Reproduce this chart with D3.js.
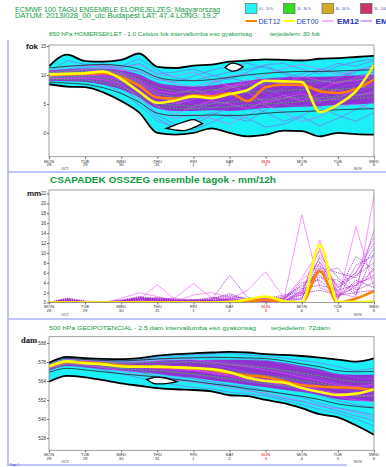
<!DOCTYPE html>
<html><head><meta charset="utf-8">
<script src="https://cdn.jsdelivr.net/npm/d3@7"></script>
<style>body{margin:0;background:#fff}svg{display:block}text{font-family:"Liberation Sans",Arial,sans-serif}</style>
</head><body><svg id="c" width="386" height="467"></svg>
<script>
// ---------- DATA ----------
const hours = [0,12,24,36,48,60,72,84,96,108,120,132,144,156,168,180,192,204,216];
const dayHours = [0,24,48,72,96,120,144,168,192,216];
const dayNames = ["MON","TUE","WED","THU","FRI","SAT","SUN","MON","TUE","WED"];
const dayNums = ["28","29","30","31","1","2","3","4","5","6"];
const tTicks = [0,5,10,15];
const pTicks = [0,2,4,6,8,10,12,14,16,18,20,22];
const zTicks = [528,540,552,564,576,588];

// Panel 1: 850 hPa temperature
const tEnvHi = [11.5,13.5,12.4,12.3,12.6,13.7,11.4,11.2,11.6,11.8,12.3,12.5,12.7,12.6,12.5,12.8,12.9,13.1,13.3];
const tEnvLo = [8.4,8.0,7.9,7.0,5.5,3.5,0.0,-0.3,0.0,0.8,0.0,-0.6,-0.3,0.4,0.3,-0.6,0.0,-0.2,-0.3];
const tInHi = [11.2,11.5,11.7,11.8,11.6,11.0,9.6,9.1,9.0,9.2,9.6,10.0,10.3,10.5,10.6,10.6,10.7,10.8,10.9];
const tInLo = [8.8,8.6,8.4,7.8,6.8,5.3,3.4,3.0,3.0,3.1,3.0,3.1,3.4,3.6,3.7,3.8,4.0,4.1,4.2];
const tBandHi = [10.8,11.0,11.1,11.1,10.8,10.1,8.7,8.2,8.0,8.2,8.6,9.0,9.4,9.6,9.7,9.7,9.8,9.9,10.0];
const tBandLo = [9.0,8.9,8.8,8.3,7.5,6.1,4.2,3.8,3.8,3.9,3.8,4.0,4.3,4.4,4.5,4.6,4.8,4.9,5.1];
const tHole1H = [78,84,90,96,102], tHole1Lo = [0.8,0.5,0.4,0.9,1.6], tHole1Hi = [0.8,1.4,1.9,2.3,1.6];
const tHole2H = [117,121,125,129], tHole2Lo = [11.3,10.7,10.8,11.4], tHole2Hi = [11.3,12.0,11.9,11.4];
const tDet00 = [10.1,10.2,10.3,10.6,9.3,7.1,5.2,5.6,6.3,6.0,6.7,7.4,9.0,8.9,8.8,3.6,4.9,7.2,11.7];
const tDet12 = [10.0,10.1,10.2,10.3,9.6,8.1,6.1,5.9,6.5,6.3,6.9,5.5,7.9,8.3,8.3,7.2,6.9,7.6,9.2];
const tMemPurple = [
 [10.2,11.0,11.5,11.9,11.5,12.8,10.8,9.5,9.0,9.8,10.5,11.0,11.6,10.2,9.0,8.5,9.5,10.5,11.8],
 [9.6,9.8,9.9,9.5,8.2,6.5,3.0,1.5,2.2,3.5,2.8,2.0,4.0,5.5,6.0,5.2,6.5,7.0,8.0],
 [10.0,10.5,10.8,10.6,10.0,8.8,6.8,6.0,5.0,4.2,5.5,7.0,8.5,9.5,10.2,11.0,10.5,9.8,10.5],
 [9.3,9.5,9.6,9.0,7.8,5.5,2.5,0.8,1.5,3.0,4.5,5.0,3.5,2.0,3.0,4.5,3.0,2.0,3.5],
 [10.5,12.5,11.8,11.5,11.2,12.0,10.2,10.5,11.0,10.0,9.2,10.5,11.8,12.0,11.0,10.2,11.5,12.3,12.8],
 [9.8,10.0,10.1,10.0,9.2,7.5,5.2,4.5,6.5,7.5,6.8,5.5,6.0,7.8,8.5,7.0,5.5,6.2,7.5],
 [10.1,10.3,10.6,10.9,10.5,9.8,8.5,7.8,7.0,8.5,9.5,8.8,7.5,6.5,7.2,8.8,9.5,10.8,11.0],
 [9.5,9.6,9.3,8.6,7.0,4.8,2.0,1.0,0.5,1.8,3.2,2.5,1.0,1.5,2.8,1.2,2.5,4.0,5.5],
 [10.3,10.8,11.2,11.5,11.0,10.5,9.2,8.8,9.8,10.8,11.5,12.0,11.2,10.5,9.5,10.8,12.0,11.5,12.5],
 [9.9,10.2,10.4,10.2,9.5,8.0,6.0,5.5,4.0,5.0,6.2,7.5,6.8,5.0,4.5,6.0,7.8,8.5,9.0]
];
const tMemPink = [
 [10.0,10.6,11.0,11.3,10.8,10.8,9.5,8.5,8.0,8.8,9.8,10.2,9.0,8.5,9.8,9.0,8.5,9.5,10.2],
 [9.7,9.9,10.0,9.8,9.0,7.2,4.5,3.2,4.5,5.5,5.0,4.2,5.5,6.5,5.5,6.8,7.5,6.5,7.0],
 [10.4,11.5,11.6,11.7,11.3,11.8,10.0,9.8,10.5,9.2,8.0,8.5,10.0,11.2,11.8,11.0,10.0,10.8,11.5],
 [9.4,9.4,9.5,9.2,8.5,6.0,3.5,2.5,3.2,2.5,1.5,3.0,4.8,3.5,2.0,2.8,4.5,5.0,4.0],
 [10.1,10.2,10.5,10.8,10.2,9.0,7.2,6.8,7.5,6.5,7.8,9.2,8.0,8.8,8.0,7.5,8.8,9.0,9.8],
 [9.9,10.1,10.3,10.4,9.8,8.5,6.5,5.0,5.8,7.0,8.2,7.0,5.2,6.0,6.8,5.5,6.0,7.5,8.5]
];
const tMemGreen = [
 [10.1,10.4,10.6,10.6,10.0,8.6,6.8,6.2,6.0,6.3,6.6,7.0,7.2,7.3,7.5,7.6,7.5,7.8,8.0],
 [9.6,9.7,9.8,9.5,8.8,7.0,5.0,4.8,4.6,5.0,5.3,5.5,5.8,6.0,6.2,6.0,6.3,6.5,6.8],
 [10.4,10.7,10.9,10.9,10.4,9.3,7.8,7.2,7.0,7.4,7.8,8.2,8.6,8.8,8.9,9.0,8.8,9.2,9.4],
 [9.3,9.2,9.1,8.8,8.0,6.5,4.6,4.2,4.2,4.4,4.5,4.8,5.0,5.2,5.4,5.6,5.8,6.0,6.2]
];

// Panel 2: precipitation mm/12h
const pDet00 = [0,0,0,0,0,0,0,0,0,0,0.1,0.6,1.2,0.3,0,11.7,0.1,0.1,0.2];
const pDet12 = [0,0,0,0,0,0,0,0,0,0,0.1,0.3,0.5,0.1,0,6.3,0,0.8,2.3];
const pMemPurple = [
 [0,0.8,0.2,0,0.3,1.0,0.5,0.2,0.3,0.8,1.5,0.5,0.2,0,2.5,9.0,3.0,5.5,8.0],
 [0,0.5,0.1,0,0.5,1.2,0.8,0.3,0.1,0.5,5.5,1.0,0.3,0.5,1.0,7.5,1.5,3.0,14.5],
 [0,0.3,0,0,0.2,0.6,1.0,0.5,0.2,0.2,0.8,0.3,1.0,0.8,3.5,6.0,7.0,2.5,4.0],
 [0,0.9,0.3,0.1,0.4,0.9,0.4,0.1,0.5,1.0,0.4,0.2,0.5,0.2,0.8,8.2,2.0,9.3,6.5],
 [0,0.2,0,0,0.1,0.5,0.3,0.8,0.4,0.3,0.2,0.5,0.8,1.5,2.0,5.0,4.5,1.5,10.0],
 [0,0.6,0.2,0,0.3,0.8,0.6,0.3,0.2,0.6,1.2,0.8,0.3,0.6,4.0,4.5,1.0,4.5,3.0],
 [0,0.4,0.1,0,0.2,1.1,0.7,0.2,0.1,0.3,0.5,0.2,0.4,0.3,1.5,6.8,3.5,6.0,12.0],
 [0,0.7,0.1,0,0.4,0.7,0.2,0.4,0.6,0.4,0.9,0.4,0.2,0.9,2.8,3.5,2.5,3.5,5.5],
 [0,0.3,0,0,0.1,0.4,0.9,0.6,0.3,0.2,0.3,0.6,1.2,0.4,0.6,9.5,5.0,2.0,7.0],
 [0,0.5,0.2,0,0.2,0.9,0.5,0.3,0.2,0.5,0.6,0.3,0.6,1.2,3.2,5.5,0.8,7.5,9.5],
 [0,0.6,0.1,0,0.3,0.8,0.4,0.2,0.4,0.7,1.8,0.6,0.3,0.2,1.8,2.5,1.5,2.0,2.5],
 [0,0.4,0.1,0,0.2,0.5,0.3,0.1,0.2,0.3,0.4,0.2,0.5,0.5,2.2,7.0,6.0,5.0,11.0]
];
const pMemPink = [
 [0,0,0,0,0.2,0.6,3.6,0.5,0.2,0.3,0.5,0.3,0.2,0.5,17.7,3.0,1.5,4.0,5.0],
 [0,0,0,0,0.8,2.0,1.2,0.3,0.5,0.4,0.6,2.5,6.2,1.0,1.5,12.6,0.5,15.3,3.0],
 [0,0,0,0,0.1,0.3,0.5,1.0,3.8,1.0,0.5,0.3,0.8,0.5,5.0,10.5,2.0,1.0,21.6],
 [0,0,0,0,0.3,0.5,0.8,0.6,0.3,0.2,0.3,0.5,1.0,0.8,4.5,8.0,3.0,6.0,13.2],
 [0,0,0,0,0.1,0.2,0.3,0.2,1.5,2.0,1.0,0.5,0.3,0.2,2.0,11.0,1.0,3.5,6.5]
];

// Panel 3: 500 hPa geopotential (dam)
const zEnvHi = [575.5,579.2,578.5,578.0,577.8,578.5,580.0,581.0,581.5,582.0,582.4,582.0,581.0,580.5,579.8,578.8,577.5,576.2,578.3];
const zEnvLo = [563.5,567.2,566.3,564.5,562.5,561.0,559.5,558.8,558.3,557.5,555.0,554.5,552.0,550.0,546.8,543.0,541.0,536.0,530.0];
const zInHi = [575.3,578.3,577.6,577.0,576.7,577.2,577.9,578.4,578.6,578.8,578.8,578.6,578.2,576.8,574.8,573.0,570.5,569.8,570.0];
const zInLo = [569.5,572.0,571.0,569.8,568.6,567.5,566.5,565.0,563.8,562.3,560.8,559.2,557.6,556.0,554.3,552.2,549.5,548.0,547.0];
const zBandHi = [574.8,577.5,576.8,576.2,575.8,576.2,576.8,577.2,577.3,577.5,577.5,577.3,577.0,575.5,573.5,571.5,568.5,568.0,568.0];
const zBandLo = [570.5,573.5,572.5,571.5,570.5,569.5,568.5,567.0,566.0,564.5,563.0,561.5,560.0,558.5,557.0,555.0,552.5,551.5,551.0];
const zHoleH = [65,70,75,80,85], zHoleLo = [565.0,562.4,562.2,562.6,563.6], zHoleHi = [565.0,566.3,566.2,565.2,563.6];
const zDet00 = [573.3,576.4,575.2,574.5,573.2,573.0,573.1,572.6,572.2,571.5,569.5,566.0,564.0,563.0,559.6,557.0,555.2,556.0,558.7];
const zDet12 = [573.0,576.0,575.6,574.8,573.8,573.2,572.8,572.6,572.0,571.0,569.0,567.5,566.5,564.0,561.5,560.5,560.0,559.5,558.3];
const zMemPurple = [
 [574.5,578.0,577.5,577.0,576.8,577.5,579.0,580.0,580.5,581.0,581.5,580.5,579.5,578.5,577.0,575.5,573.0,570.5,572.0],
 [571.0,574.5,573.0,571.0,568.5,566.0,563.5,561.5,560.0,559.0,557.0,556.0,554.5,552.0,549.0,546.0,543.5,540.0,535.5],
 [573.5,576.8,576.0,575.5,575.0,575.8,576.5,577.0,576.0,574.5,572.0,569.5,567.0,565.5,563.0,561.0,559.0,557.0,556.5],
 [572.5,575.5,574.5,573.5,572.0,570.5,569.0,567.0,565.5,563.5,561.5,560.5,558.0,556.0,553.5,550.0,547.0,545.0,542.5],
 [574.0,577.5,577.0,576.5,576.0,576.8,578.0,578.5,579.0,579.5,579.0,578.0,577.0,575.0,572.5,570.0,568.5,566.0,565.5],
 [572.0,575.8,574.8,573.0,571.5,569.5,567.0,565.5,564.0,562.0,561.0,558.5,555.5,553.0,551.0,548.5,545.0,542.0,539.0],
 [573.8,577.0,576.5,575.5,574.5,574.0,574.5,575.5,576.5,577.0,576.0,574.0,572.5,570.5,568.0,565.5,562.5,560.0,561.0],
 [572.8,576.0,575.0,574.0,573.0,572.0,571.0,569.5,568.0,566.5,565.0,563.5,562.0,560.5,558.0,555.0,551.5,549.0,547.5]
];
const zMemPink = [
 [573.5,576.5,575.8,575.0,574.0,573.5,573.0,572.0,571.0,569.5,568.0,566.5,565.0,563.0,561.0,558.5,556.0,554.5,555.0],
 [574.2,577.8,577.0,576.2,575.5,576.0,577.0,578.0,577.5,576.0,574.5,573.0,571.0,569.0,566.5,564.0,561.5,560.5,562.0],
 [572.2,575.2,574.0,572.5,570.5,568.0,566.0,564.5,563.0,561.5,559.5,557.5,556.5,554.0,551.5,548.0,546.5,544.0,541.0],
 [573.0,576.2,575.5,574.5,573.5,573.0,572.0,571.0,570.5,569.0,567.0,565.0,563.5,561.5,559.5,557.0,554.5,552.0,551.0]
];
const zMemGreen = [
 [573.2,576.3,575.4,574.8,574.0,573.6,573.2,572.8,572.2,571.5,570.2,568.8,567.5,566.0,564.2,562.5,560.5,559.5,559.0],
 [574.0,577.0,576.2,575.8,575.2,575.5,575.8,576.0,575.8,575.2,574.5,573.5,572.2,570.8,569.0,567.2,565.0,563.5,563.0],
 [572.0,575.0,574.0,573.0,572.0,571.2,570.5,569.5,568.5,567.0,565.5,564.0,562.5,561.0,559.2,557.2,555.5,554.5,554.0]
];

const legendBoxes = [["0.5 - 10 %","#22f4f8"],["10 - 30 %","#33dd22"],["30 - 50 %","#d4aa2a"],["50 - 100 %","#cc3366"]];
const legendLines = [["DET12","#ff8000",false],["DET00","#ffff00",false],["EM12","#ff66ff",true],["EM00","#aa55ee",true]];

// ---------- DRAW ----------
const svg = d3.select("#c");
const X0 = 49, X1 = 374;
const x = d3.scaleLinear().domain([0,216]).range([X0,X1]);
const blue = "#aab0ff";

svg.append("line").attr("x1",8).attr("x2",8).attr("y1",40).attr("y2",466).attr("stroke",blue).attr("stroke-width",1.5);
[[172,386],[319,386],[465,347]].forEach(([yy,xe])=>svg.append("line").attr("x1",8).attr("x2",xe).attr("y1",yy).attr("y2",yy).attr("stroke",blue).attr("stroke-width",1.5));

const green = "#109a40";
function txt(s,x0,y0,size,len,opts={}){
  const t = svg.append("text").attr("x",x0).attr("y",y0).attr("font-size",size).attr("fill",opts.fill||green).text(s);
  if(opts.bold) t.attr("font-weight","bold");
  if(len) t.attr("textLength",len).attr("lengthAdjust","spacingAndGlyphs");
  if(opts.anchor) t.attr("text-anchor",opts.anchor);
  if(opts.family) t.style("font-family",opts.family);
  return t;
}
txt("ECMWF 100 TAGU ENSEMBLE ELOREJELZES:  Magyarorszag",15,11.5,6.5,205,{});
txt("DATUM: 2013I028_00_utc  Budapest  LAT: 47.4  LONG: 19.2",15,17.5,6.5,202,{});
txt("850 hPa HOMERSEKLET - 1.0 Celsius fok intervallumba eso gyakorisag",49,36,5,203);
txt("terjedelem: 30 fok",270,36,5,50);
txt("CSAPADEK OSSZEG ensemble tagok - mm/12h",50,182.5,9,226,{bold:true});
txt("500 hPa GEOPOTENCIAL - 2.5 dam intervallumba eso gyakorisag",49,329.5,5.5,207);
txt("terjedelem: 72dam",271,329.5,5.5,59);
txt("Page 1",10,466,3.2,9,{fill:"#3344cc"});

legendBoxes.forEach((d,i)=>{
  const lx = [245.5,283.5,322,360.5][i];
  svg.append("rect").attr("x",lx).attr("y",3.5).attr("width",11.5).attr("height",10).attr("fill",d[1]).attr("stroke","#555").attr("stroke-width",0.6);
  txt(d[0],lx+13.5,10,3.6,i<3?14:16,{fill:"#2244aa"});
});
legendLines.forEach((d,i)=>{
  const lx = [245.5,283.5,322,360.5][i];
  svg.append("line").attr("x1",lx).attr("x2",lx+11.5).attr("y1",21).attr("y2",21).attr("stroke",d[1]).attr("stroke-width",d[2]?1:2);
  if(d[2]) txt(d[0],lx+15,23.8,8,22,{fill:"#2233bb",bold:true});
  else txt(d[0],lx+13,23.5,6.5,22,{fill:"#2244bb"});
});

const defs = svg.append("defs");
function panel(id, top, bot){
  defs.append("clipPath").attr("id",id).append("rect").attr("x",X0).attr("y",top).attr("width",X1-X0).attr("height",bot-top);
  return svg.append("g").attr("clip-path",`url(#${id})`);
}
function lineGen(y, curve){ return d3.line().x((d,i)=>x(hours[i])).y(d=>y(d)).curve(curve||d3.curveLinear); }
function areaGen(y, hh, curve){ return d3.area().x((d,i)=>x(hh[i])).y0(d=>y(d[0])).y1(d=>y(d[1])).curve(curve||d3.curveLinear); }
function zip(a,b){ return a.map((v,i)=>[v,b[i]]); }

function frameAndAxes(y, top, bot, ticks, ylab, labY){
  svg.append("rect").attr("x",X0).attr("y",top).attr("width",X1-X0).attr("height",bot-top).attr("fill","none").attr("stroke","#888").attr("stroke-width",0.8);
  const ya = svg.append("g").attr("transform",`translate(${X0},0)`).call(d3.axisLeft(y).tickValues(ticks).tickSize(2).tickPadding(1));
  ya.select(".domain").remove();
  ya.selectAll("text").attr("font-size",4.6).attr("fill","#333").style("font-family","Liberation Sans, Arial");
  ya.selectAll("line").attr("stroke","#666");
  const xa = svg.append("g").attr("transform",`translate(0,${bot})`).call(d3.axisBottom(x).tickValues(dayHours).tickSize(2).tickFormat(""));
  xa.select(".domain").remove();
  xa.selectAll("line").attr("stroke","#666");
  dayHours.forEach((h,i)=>{
    const col = dayNames[i]==="SUN" ? "#ee1111" : "#333";
    txt(dayNames[i],x(h),bot+5.8,4.3,null,{fill:col,anchor:"middle"});
    txt(dayNums[i],x(h),bot+9.6,4.3,null,{fill:col,anchor:"middle"});
  });
  txt("OCT",65,bot+13,3.6,null,{fill:"#333",anchor:"middle"});
  txt("NOV",358,bot+13,3.6,null,{fill:"#333",anchor:"middle"});
  txt(ylab[0],ylab[1],labY,ylab[2],null,{fill:"#111",bold:true,family:ylab[3]});
}

function plume(g, y, o){
  const smooth = d3.curveMonotoneX;
  g.append("path").attr("d",areaGen(y,hours,smooth)(zip(o.envLo,o.envHi))).attr("fill","#1cf0f6");
  g.append("path").attr("d",areaGen(y,hours,smooth)(zip(o.bandLo,o.bandHi))).attr("fill","#9a22cc").attr("opacity",0.92);
  o.memPurple.forEach(m=>g.append("path").attr("d",lineGen(y)(m)).attr("fill","none").attr("stroke","#8a5cf0").attr("stroke-width",0.6));
  o.memPink.forEach(m=>g.append("path").attr("d",lineGen(y)(m)).attr("fill","none").attr("stroke","#ee55ff").attr("stroke-width",0.6));
  o.memGreen.forEach(m=>g.append("path").attr("d",lineGen(y)(m)).attr("fill","none").attr("stroke","#33cc33").attr("stroke-width",0.9).attr("stroke-dasharray","2,1.6"));
  [o.inHi,o.inLo].forEach(a=>g.append("path").attr("d",lineGen(y,smooth)(a)).attr("fill","none").attr("stroke","#222").attr("stroke-width",0.8));
  o.holes.forEach(hl=>g.append("path").attr("d",areaGen(y,hl[0],d3.curveCardinal)(zip(hl[1],hl[2]))+"Z").attr("fill","#fff").attr("stroke","#000").attr("stroke-width",1.3));
  [o.envHi,o.envLo].forEach(a=>g.append("path").attr("d",lineGen(y,smooth)(a)).attr("fill","none").attr("stroke","#000").attr("stroke-width",1.8));
  g.append("path").attr("d",lineGen(y,smooth)(o.det12)).attr("fill","none").attr("stroke","#ff7f00").attr("stroke-width",2.6);
  g.append("path").attr("d",lineGen(y,smooth)(o.det00)).attr("fill","none").attr("stroke","#ffff00").attr("stroke-width",2.6);
}

// Panel 1
const y1 = d3.scaleLinear().domain([-4.1,15.17]).range([156.7,45]);
const g1 = panel("cp1",45,156.7);
plume(g1,y1,{envHi:tEnvHi,envLo:tEnvLo,inHi:tInHi,inLo:tInLo,bandHi:tBandHi,bandLo:tBandLo,
  memPurple:tMemPurple,memPink:tMemPink,memGreen:tMemGreen,
  holes:[[tHole1H,tHole1Lo,tHole1Hi],[tHole2H,tHole2Lo,tHole2Hi]],det00:tDet00,det12:tDet12});
frameAndAxes(y1,45,156.7,tTicks,["fok",26,8],49);

// Panel 2
const y2 = d3.scaleLinear().domain([0,22.7]).range([302.5,190]);
const g2 = panel("cp2",190,302.5);
pMemPink.forEach(m=>g2.append("path").attr("d",lineGen(y2)(m)).attr("fill","none").attr("stroke","#ff66ff").attr("stroke-width",0.7));
pMemPurple.forEach(m=>g2.append("path").attr("d",lineGen(y2)(m)).attr("fill","none").attr("stroke","#9922cc").attr("stroke-width",0.7).attr("stroke-dasharray","1.5,0.8"));
g2.append("path").attr("d",lineGen(y2,d3.curveMonotoneX)(pDet12)).attr("fill","none").attr("stroke","#ff7f00").attr("stroke-width",2.6);
g2.append("path").attr("d",lineGen(y2,d3.curveMonotoneX)(pDet00)).attr("fill","none").attr("stroke","#ffff00").attr("stroke-width",2.6);
frameAndAxes(y2,190,302.5,pTicks,["mm",27,8],195.5);

// Panel 3
const y3 = d3.scaleLinear().domain([520.2,592]).range([450.3,336.7]);
const g3 = panel("cp3",336.7,450.3);
plume(g3,y3,{envHi:zEnvHi,envLo:zEnvLo,inHi:zInHi,inLo:zInLo,bandHi:zBandHi,bandLo:zBandLo,
  memPurple:zMemPurple,memPink:zMemPink,memGreen:zMemGreen,
  holes:[[zHoleH,zHoleLo,zHoleHi]],det00:zDet00,det12:zDet12});
frameAndAxes(y3,336.7,450.3,zTicks,["dam",21,8.5,"Liberation Serif, Times New Roman, serif"],343);
</script></body></html>
